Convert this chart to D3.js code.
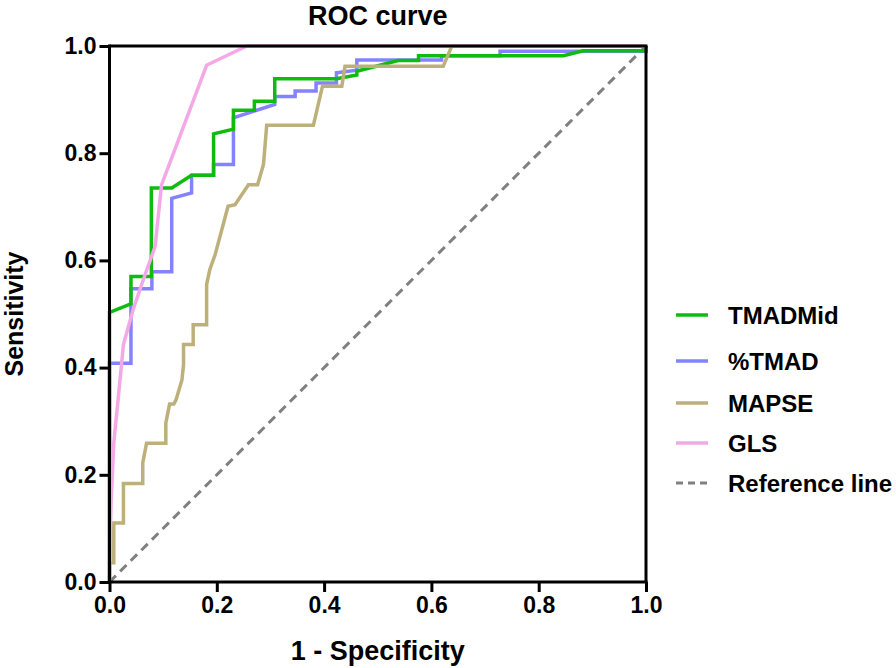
<!DOCTYPE html>
<html>
<head>
<meta charset="utf-8">
<script src="https://cdn.jsdelivr.net/npm/d3@7"></script>
<style>
  html, body { margin: 0; padding: 0; background: #fff; }
  svg text { font-family: "Liberation Sans", Arial, Helvetica, sans-serif; font-weight: bold; fill: #000; }
</style>
</head>
<body>
<svg id="chart" width="896" height="668"></svg>
<script>
// ---- data ----
const seriesNames = ["TMADMid", "%TMAD", "MAPSE", "GLS"];
const tmadMid = [[0,0],[0,0.503],[0.04,0.519],[0.04,0.570],[0.078,0.570],[0.078,0.735],[0.116,0.735],[0.153,0.759],[0.194,0.759],[0.194,0.836],[0.231,0.845],[0.231,0.880],[0.270,0.880],[0.270,0.897],[0.308,0.897],[0.308,0.939],[0.423,0.939],[0.461,0.946],[0.461,0.953],[0.538,0.973],[0.576,0.973],[0.576,0.982],[0.846,0.982],[0.883,0.991],[1.0,0.991],[1,1]];
const pctTmad = [[0,0],[0,0.408],[0.04,0.408],[0.04,0.547],[0.079,0.547],[0.079,0.579],[0.116,0.579],[0.116,0.716],[0.153,0.726],[0.153,0.759],[0.194,0.759],[0.194,0.779],[0.231,0.779],[0.231,0.866],[0.308,0.891],[0.308,0.906],[0.346,0.906],[0.346,0.916],[0.385,0.916],[0.385,0.931],[0.423,0.931],[0.423,0.950],[0.461,0.955],[0.461,0.974],[0.619,0.974],[0.619,0.982],[0.728,0.982],[0.728,0.990],[1,0.990],[1,1]];
const mapse = [[0,0],[0,0.036],[0.008,0.036],[0.008,0.110],[0.026,0.110],[0.026,0.184],[0.062,0.184],[0.062,0.222],[0.069,0.259],[0.105,0.259],[0.105,0.297],[0.112,0.332],[0.120,0.332],[0.124,0.340],[0.135,0.377],[0.138,0.405],[0.138,0.443],[0.156,0.443],[0.156,0.480],[0.181,0.480],[0.181,0.555],[0.187,0.583],[0.197,0.611],[0.221,0.701],[0.234,0.704],[0.259,0.741],[0.276,0.741],[0.287,0.779],[0.293,0.852],[0.380,0.852],[0.397,0.925],[0.433,0.925],[0.439,0.962],[0.622,0.962],[0.638,1],[1,1]];
const gls = [[0,0.038],[0.003,0.15],[0.008,0.26],[0.016,0.340],[0.026,0.443],[0.044,0.508],[0.063,0.564],[0.085,0.626],[0.097,0.741],[0.181,0.964],[0.256,1],[1,1]];
const referenceLine = [[0,0],[1,1]];
const tickValues = [0, 0.2, 0.4, 0.6, 0.8, 1.0];
const colors = {"TMADMid": "#10bb10", "%TMAD": "#8383ff", "MAPSE": "#bdb07a", "GLS": "#f5a8e6", "Reference line": "#808080"};

// ---- chart ----
const svg = d3.select("#chart");
const x = d3.scaleLinear().domain([0, 1]).range([109.5, 646]);
const y = d3.scaleLinear().domain([0, 1]).range([582, 46]);
const line = d3.line().x(d => x(d[0])).y(d => y(d[1]));

// reference line
svg.append("path").datum(referenceLine).attr("d", line)
  .attr("fill", "none").attr("stroke", colors["Reference line"])
  .attr("stroke-width", 3).attr("stroke-dasharray", "9,6");

// curves (draw order)
const drawOrder = [["%TMAD", pctTmad], ["TMADMid", tmadMid], ["MAPSE", mapse], ["GLS", gls]];
drawOrder.forEach(([name, data]) => {
  svg.append("path").datum(data).attr("d", line)
    .attr("fill", "none").attr("stroke", colors[name])
    .attr("stroke-width", 3.5).attr("stroke-linejoin", "miter");
});

// axes
const fmt = d3.format(".1f");
const yAxis = svg.append("g").attr("transform", `translate(${x(0)},0)`)
  .call(d3.axisLeft(y).tickValues(tickValues).tickFormat(fmt).tickSize(10).tickPadding(3).tickSizeOuter(0));
const xAxis = svg.append("g").attr("transform", `translate(0,${y(0)})`)
  .call(d3.axisBottom(x).tickValues(tickValues).tickFormat(fmt).tickSize(10).tickPadding(5).tickSizeOuter(0));
[xAxis, yAxis].forEach(g => {
  g.selectAll("path, line").attr("stroke", "#000").attr("stroke-width", 3);
  g.selectAll("text").style("font-size", "23px").style("font-family", "'Liberation Sans', Arial, sans-serif").style("font-weight", "bold").attr("fill", "#000");
});
// extend axis line corners
xAxis.select("path").attr("d", `M${x(0)-1.5},0H${x(1)+1.5}`);
yAxis.select("path").attr("d", `M0,${y(0)+1.5}V${y(1)-1.5}`);

// top and right border
svg.append("line").attr("x1", x(0)).attr("x2", x(1) + 1.5).attr("y1", y(1)).attr("y2", y(1))
  .attr("stroke", "#000").attr("stroke-width", 3);
svg.append("line").attr("x1", x(1)).attr("x2", x(1)).attr("y1", y(1)).attr("y2", y(0))
  .attr("stroke", "#000").attr("stroke-width", 3);

// title and axis labels
svg.append("text").attr("x", (x(0) + x(1)) / 2).attr("y", 25).attr("text-anchor", "middle")
  .style("font-size", "27px").text("ROC curve");
svg.append("text").attr("x", (x(0) + x(1)) / 2).attr("y", 660).attr("text-anchor", "middle")
  .style("font-size", "27px").text("1 - Specificity");
svg.append("text").attr("transform", `translate(23,${(y(0) + y(1)) / 2}) rotate(-90)`)
  .attr("text-anchor", "middle").style("font-size", "25px").text("Sensitivity");

// legend
const legendItems = ["TMADMid", "%TMAD", "MAPSE", "GLS", "Reference line"];
const legendY = [315, 361, 403, 443, 483];
legendItems.forEach((name, i) => {
  const g = svg.append("g").attr("transform", `translate(0,${legendY[i]})`);
  g.append("line").attr("x1", 676).attr("x2", 708).attr("y1", 0).attr("y2", 0)
    .attr("stroke", colors[name]).attr("stroke-width", name === "Reference line" ? 3 : 3.5)
    .attr("stroke-dasharray", name === "Reference line" ? "7,5" : null);
  g.append("text").attr("x", 728).attr("y", 8.5).style("font-size", "24px").text(name);
});
</script>
</body>
</html>
